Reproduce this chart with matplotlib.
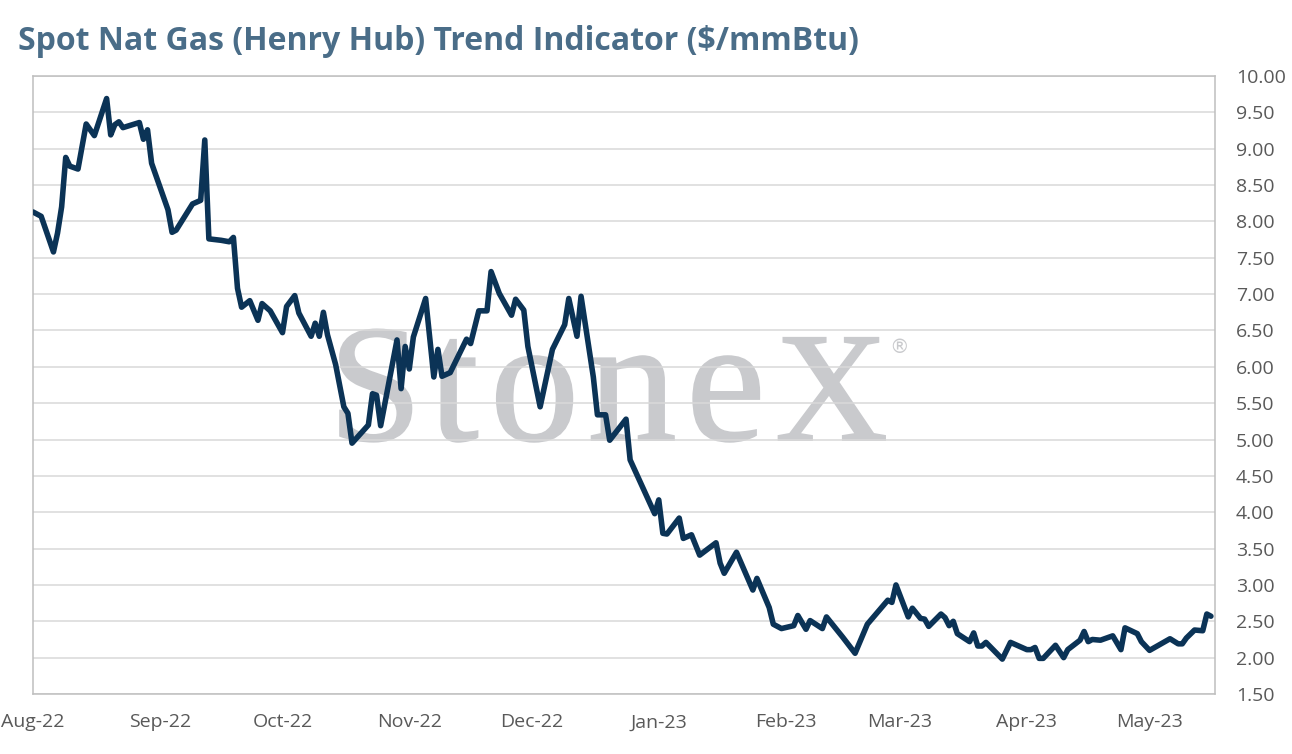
import matplotlib
matplotlib.use('Agg')
import matplotlib.pyplot as plt
import matplotlib.dates as mdates
import numpy as np
import pandas as pd
from matplotlib.textpath import TextPath
from matplotlib.patches import PathPatch
from matplotlib.transforms import Affine2D, IdentityTransform
from matplotlib.font_manager import FontProperties

# spot Henry Hub trend indicator, $/mmBtu
dates = [
    '2022-08-01', '2022-08-03', '2022-08-06', '2022-08-07', '2022-08-08', '2022-08-09',
    '2022-08-10', '2022-08-12', '2022-08-14', '2022-08-16', '2022-08-17', '2022-08-19',
    '2022-08-20', '2022-08-21', '2022-08-22', '2022-08-23', '2022-08-27', '2022-08-28',
    '2022-08-29', '2022-08-30', '2022-09-03', '2022-09-04', '2022-09-05', '2022-09-09',
    '2022-09-11', '2022-09-12', '2022-09-13', '2022-09-16', '2022-09-18', '2022-09-19',
    '2022-09-20', '2022-09-21', '2022-09-23', '2022-09-25', '2022-09-26', '2022-09-28',
    '2022-10-01', '2022-10-02', '2022-10-04', '2022-10-05', '2022-10-08', '2022-10-09',
    '2022-10-10', '2022-10-11', '2022-10-12', '2022-10-14', '2022-10-16', '2022-10-17',
    '2022-10-18', '2022-10-22', '2022-10-23', '2022-10-24', '2022-10-25', '2022-10-29',
    '2022-10-30', '2022-10-31', '2022-11-01', '2022-11-02', '2022-11-05', '2022-11-07',
    '2022-11-08', '2022-11-09', '2022-11-11', '2022-11-15', '2022-11-16', '2022-11-18',
    '2022-11-20', '2022-11-21', '2022-11-23', '2022-11-26', '2022-11-27', '2022-11-29',
    '2022-11-30', '2022-12-03', '2022-12-06', '2022-12-09', '2022-12-10', '2022-12-12',
    '2022-12-13', '2022-12-16', '2022-12-17', '2022-12-19', '2022-12-20', '2022-12-24',
    '2022-12-25', '2022-12-31', '2023-01-01', '2023-01-02', '2023-01-03', '2023-01-06',
    '2023-01-07', '2023-01-09', '2023-01-11', '2023-01-15', '2023-01-16', '2023-01-17',
    '2023-01-20', '2023-01-24', '2023-01-25', '2023-01-28', '2023-01-29', '2023-01-31',
    '2023-02-03', '2023-02-04', '2023-02-06', '2023-02-07', '2023-02-10', '2023-02-11',
    '2023-02-15', '2023-02-18', '2023-02-21', '2023-02-26', '2023-02-27', '2023-02-28',
    '2023-03-03', '2023-03-04', '2023-03-06', '2023-03-07', '2023-03-08', '2023-03-11',
    '2023-03-12', '2023-03-13', '2023-03-14', '2023-03-15', '2023-03-18', '2023-03-19',
    '2023-03-20', '2023-03-21', '2023-03-22', '2023-03-26', '2023-03-28', '2023-04-01',
    '2023-04-02', '2023-04-03', '2023-04-04', '2023-04-05', '2023-04-08', '2023-04-10',
    '2023-04-11', '2023-04-14', '2023-04-15', '2023-04-16', '2023-04-17', '2023-04-19',
    '2023-04-22', '2023-04-24', '2023-04-25', '2023-04-28', '2023-04-29', '2023-05-01',
    '2023-05-06', '2023-05-08', '2023-05-09', '2023-05-10', '2023-05-12', '2023-05-14',
    '2023-05-15', '2023-05-16',
]
prices = [
    8.13, 8.07, 7.58, 7.84, 8.20, 8.88,
    8.76, 8.72, 9.34, 9.18, 9.35, 9.69,
    9.19, 9.33, 9.37, 9.29, 9.36, 9.13,
    9.26, 8.80, 8.16, 7.85, 7.88, 8.24,
    8.29, 9.12, 7.76, 7.74, 7.72, 7.78,
    7.08, 6.82, 6.91, 6.64, 6.87, 6.77,
    6.47, 6.83, 6.98, 6.74, 6.42, 6.60,
    6.42, 6.75, 6.44, 6.03, 5.45, 5.36,
    4.95, 5.20, 5.63, 5.61, 5.19, 6.37,
    5.70, 6.28, 5.97, 6.41, 6.94, 5.86,
    6.24, 5.87, 5.92, 6.38, 6.32, 6.77,
    6.77, 7.31, 7.01, 6.71, 6.93, 6.78,
    6.28, 5.45, 6.24, 6.58, 6.94, 6.42,
    6.97, 5.86, 5.34, 5.34, 4.99, 5.28,
    4.72, 3.98, 4.17, 3.71, 3.70, 3.92,
    3.64, 3.69, 3.41, 3.58, 3.30, 3.16,
    3.45, 2.93, 3.09, 2.69, 2.46, 2.40,
    2.44, 2.58, 2.39, 2.51, 2.40, 2.56,
    2.28, 2.06, 2.46, 2.79, 2.76, 3.00,
    2.56, 2.68, 2.54, 2.53, 2.43, 2.60,
    2.55, 2.44, 2.50, 2.33, 2.22, 2.34,
    2.16, 2.16, 2.21, 1.98, 2.21, 2.11,
    2.11, 2.14, 1.99, 1.99, 2.17, 2.00,
    2.11, 2.24, 2.36, 2.22, 2.25, 2.24,
    2.30, 2.11, 2.41, 2.33, 2.22, 2.10,
    2.26, 2.19, 2.19, 2.27, 2.38, 2.37,
    2.60, 2.57,
]
y_ticks = np.arange(1.5, 10.01, 0.5)
title = 'Spot Nat Gas (Henry Hub) Trend Indicator ($/mmBtu)'

W, H = 1292, 754
fig = plt.figure(figsize=(W / 100, H / 100), dpi=100)
ax = fig.add_axes([33 / W, 1 - 694 / H, (1215 - 33) / W, (694 - 76) / H])

# watermark behind the grid (letters sized roughly like the logo)
wm_grey = '#c9cacd'
fp = FontProperties(family='Liberation Serif')
wm_scale = {'S': 1.07, 'X': 1.0}
glyphs = []
for ch in 'StoneX':
    sz = 156 * wm_scale.get(ch, 1.14)
    glyphs.append(TextPath((0, 0), ch, size=sz, prop=fp))
exts = [g.get_extents() for g in glyphs]
gap = (885 - 340 - sum(e.width for e in exts)) / 5
xpos = 340
for g, e in zip(glyphs, exts):
    tr = Affine2D().translate(xpos - e.x0, H - 440) + IdentityTransform()
    ax.add_patch(PathPatch(g, transform=tr, fc=wm_grey, ec=wm_grey, lw=1.4, zorder=0.2))
    xpos += e.width + gap
fig.text(899 / W, 1 - 347 / H, '\u00ae', fontsize=14, color=wm_grey,
         ha='center', va='center', family='DejaVu Sans')

x = pd.to_datetime(dates)
ax.plot(x, prices, color='#0b3356', lw=4.0, solid_joinstyle='round',
        solid_capstyle='round', zorder=3)

ax.set_xlim(pd.Timestamp('2022-08-01'), pd.Timestamp('2023-05-17'))
ax.set_ylim(1.5, 10.0)
ax.set_yticks(y_ticks)
ax.set_yticklabels([f'{v:.2f}' for v in y_ticks])
ax.yaxis.tick_right()
ax.xaxis.set_major_locator(mdates.MonthLocator())
ax.xaxis.set_major_formatter(mdates.DateFormatter('%b-%y'))

ax.set_axisbelow(True)
ax.yaxis.grid(True, color='#d9d9d9', lw=1.1)
for s in ax.spines.values():
    s.set_color('#bfbfbf')
    s.set_linewidth(1.1)

ax.tick_params(axis='y', length=0, pad=15, labelsize=14, labelcolor='#595959')
ax.tick_params(axis='x', length=0, pad=14, labelsize=14, labelcolor='#595959')
for lab in ax.get_xticklabels() + ax.get_yticklabels():
    lab.set_family('Open Sans')

fig.text(18 / W, 1 - 41 / H, title, fontsize=23, fontweight='bold', color='#4a6d88',
         family='Open Sans', ha='left', va='center')

fig.savefig('out.png', dpi=100)
